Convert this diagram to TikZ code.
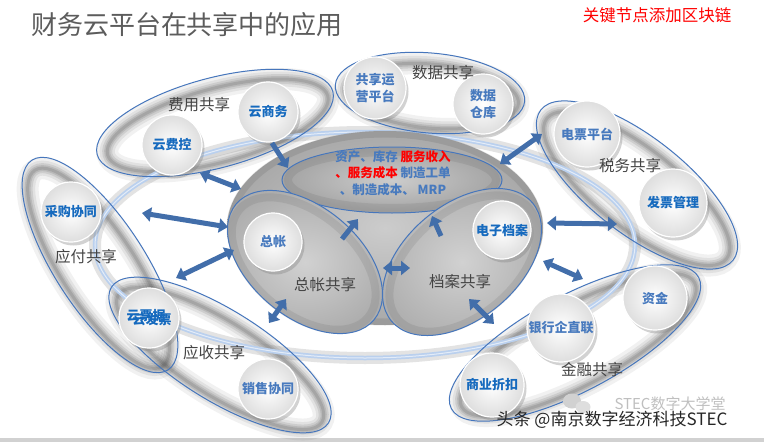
\documentclass[tikz,border=0pt]{standalone}
\usepackage{fontspec}
\setmainfont{Noto Sans CJK SC}
\usetikzlibrary{arrows.meta,shadows}
\definecolor{nodeblue}{RGB}{22,106,190}
\definecolor{softblue}{RGB}{72,122,190}
\definecolor{lineblue}{RGB}{70,118,188}
\definecolor{arrowblue}{RGB}{66,110,170}
\definecolor{ringblue}{RGB}{186,208,238}
\definecolor{labelgray}{RGB}{68,68,68}
\definecolor{titlegray}{RGB}{92,92,92}
\newcommand\grpshadow[5]{%
  \foreach \w/\o in {22/0.07,15/0.09,10/0.12,6/0.14,3/0.16}{%
    \draw[black!75, line width=\w pt, opacity=\o, rotate around={#5:(#1,#2)}]
      (#1+2,#2+3) ellipse [x radius=#3-8, y radius=#4-8];}}
\newcommand\grpline[5]{%
  \draw[grpoutline, rotate around={#5:(#1,#2)}] (#1,#2) ellipse [x radius=#3, y radius=#4];}
\begin{document}
\begin{tikzpicture}[x=1pt,y=-1pt,
  bub/.style={circle, minimum size=#1, inner sep=0pt, draw=white, line width=1.2pt,
    inner color=white, outer color=black!13,
    drop shadow={shadow xshift=2.5pt, shadow yshift=-3.5pt, opacity=0.35},
    text=nodeblue, font=\bfseries\fontsize{13}{17}\selectfont, align=center},
  grplabel/.style={text=labelgray, font=\fontsize{15.5}{18}\selectfont},
  grpoutline/.style={lineblue, line width=1pt},
  arr/.style={arrowblue, line width=5pt, -{Triangle[width=14pt,length=9pt]}},
  darr/.style={arrowblue, line width=5pt, {Triangle[width=14pt,length=9pt]}-{Triangle[width=14pt,length=9pt]}}
]
\useasboundingbox (0,0) rectangle (764,442);
\fill[white] (0,0) rectangle (764,442);
\fill[black!18] (0,438) rectangle (764,442);

% group shadows
\grpshadow{215}{123}{122}{45}{15}
\grpshadow{430}{93}{95}{40}{-5}
\grpshadow{637}{185}{122}{48}{-38}
\grpshadow{100}{265}{125}{45}{-57}
\grpshadow{220}{355}{128}{45}{-32}
\grpshadow{575}{343}{140}{48}{28}

% ring
\draw[black!50, line width=12pt, opacity=0.22] (365,245) ellipse [x radius=270, y radius=113];
\draw[ringblue, line width=4.5pt] (365,245) ellipse [x radius=270, y radius=113];
\draw[white, line width=1pt, opacity=0.6] (365,245) ellipse [x radius=270, y radius=113];

% central gray base
\shade[inner color=black!20, outer color=black!34] (385,228) ellipse [x radius=158, y radius=97];
\draw[black!70, line width=7pt, opacity=0.15] (385,228) ellipse [x radius=155, y radius=94];

% inner ellipses
\shade[inner color=black!20, outer color=black!36] (392,180) ellipse [x radius=110, y radius=33];
\draw[black!70, line width=8pt, opacity=0.12] (392,180) ellipse [x radius=104, y radius=28];
\draw[grpoutline] (392,180) ellipse [x radius=110, y radius=33];
\begin{scope}[rotate around={-40:(305,262)}]
  \shade[inner color=black!18, outer color=black!32] (305,262) ellipse [x radius=90, y radius=55];
  \draw[black!70, line width=8pt, opacity=0.12] (305,264) ellipse [x radius=84, y radius=50];
  \draw[grpoutline] (305,262) ellipse [x radius=90, y radius=55];
\end{scope}
\begin{scope}[rotate around={40:(462,262)}]
  \shade[inner color=black!18, outer color=black!32] (462,262) ellipse [x radius=92, y radius=57];
  \draw[black!70, line width=8pt, opacity=0.12] (462,264) ellipse [x radius=86, y radius=52];
  \draw[grpoutline] (462,262) ellipse [x radius=92, y radius=57];
\end{scope}

% group outlines
\grpline{215}{123}{122}{45}{15}
\grpline{430}{93}{95}{40}{-5}
\grpline{637}{185}{122}{48}{-38}
\grpline{100}{265}{125}{45}{-57}
\grpline{220}{355}{128}{45}{-32}
\grpline{575}{343}{140}{48}{28}

% circles
\node[bub=60] (yunshangwu) at (268,112) {云商务};
\node[bub=60] (yunfeikong) at (172,145) {云费控};
\node[bub=62, text=softblue] (gxyy) at (375,88) {共享运\\营平台};
\node[bub=60, text=softblue] (sjck) at (483,104) {数据\\仓库};
\node[bub=66, text=softblue] (dppt) at (587,134) {电票平台};
\node[bub=68] (fpgl) at (673,203) {发票管理};
\node[bub=60] (cgxt) at (71,212) {采购协同};
\node[bub=60] (ypj) at (149,318) {};
\node[text=nodeblue, font=\bfseries\fontsize{13}{15}\selectfont] (ypjt) at (146,316) {云票据};
\node[text=nodeblue, font=\bfseries\fontsize{13}{15}\selectfont] (yfpt) at (152,320) {云发票};
\node[bub=60, text=softblue] (xsxt) at (268,389) {销售协同};
\node[bub=58, text=softblue] (zz) at (273,242) {总帐};
\node[bub=58] (dzda) at (502,230) {电子档案};
\node[bub=64, text=softblue] (zj) at (655,298) {资金};
\node[bub=68, text=softblue] (yhqzl) at (561,328) {银行企直联};
\node[bub=64] (syzk) at (492,385) {商业折扣};

% arrows
\coordinate (a1s) at (200,173); \coordinate (a1e) at (241,189);
\coordinate (a2s) at (272,143); \coordinate (a2e) at (288,168);
\coordinate (a3s) at (142,213); \coordinate (a3e) at (228,227);
\coordinate (a4s) at (176,278); \coordinate (a4e) at (234,250);
\coordinate (a5s) at (269,323); \coordinate (a5e) at (286,299);
\coordinate (a6s) at (542,134); \coordinate (a6e) at (500,164);
\coordinate (a7s) at (547,223); \coordinate (a7e) at (617,224);
\coordinate (a8s) at (543,261); \coordinate (a8e) at (583,279);
\coordinate (a9s) at (469,299); \coordinate (a9e) at (494,324);
\coordinate (a10s) at (342,239); \coordinate (a10e) at (358,219);
\coordinate (a11s) at (441,236); \coordinate (a11e) at (432,216);
\coordinate (a12s) at (383,268); \coordinate (a12e) at (410,268);
\draw[darr] (a1s) -- (a1e);
\draw[arr] (a2s) -- (a2e);
\draw[darr] (a3s) -- (a3e);
\draw[darr] (a4s) -- (a4e);
\draw[darr] (a5s) -- (a5e);
\draw[darr] (a6s) -- (a6e);
\draw[darr] (a7s) -- (a7e);
\draw[darr] (a8s) -- (a8e);
\draw[darr] (a9s) -- (a9e);
\draw[arr] (a10s) -- (a10e);
\draw[arr] (a11s) -- (a11e);
\draw[darr] (a12s) -- (a12e);

% center text
\node[text=softblue, font=\bfseries\fontsize{12.5}{16.5}\selectfont, align=center] (ctext) at (393,173)
  {资产、库存 \textcolor{red}{服务收入}\\\textcolor{red}{、服务成本} 制造工单\\、制造成本、 MRP};

% group labels
\node[grplabel] (l1) at (199,105) {费用共享};
\node[grplabel] (l2) at (443,73) {数据共享};
\node[grplabel] (l3) at (630,166) {税务共享};
\node[grplabel] (l4) at (86,257) {应付共享};
\node[grplabel] (l5) at (214,353) {应收共享};
\node[grplabel] (l6) at (325,285) {总帐共享};
\node[grplabel] (l7) at (460,282) {档案共享};
\node[grplabel] (l8) at (592,370) {金融共享};

% titles
\node[text=titlegray, font=\fontsize{26}{30}\selectfont] (title) at (187,25) {财务云平台在共享中的应用};
\node[text=red, font=\fontsize{16.5}{19}\selectfont] (keynote) at (657,15) {关键节点添加区块链};

% watermark
\fill[black!18] (572,401) ellipse [x radius=9, y radius=7.5];
\fill[black!13] (583,407) ellipse [x radius=7.5, y radius=6];
\node[text=black!25, font=\fontsize{15}{17}\selectfont] (wm2) at (670,404) {STEC数字大学堂};
\node[text=black!85, font=\fontsize{17}{20}\selectfont] (wm) at (612,420) {头条 @南京数字经济科技STEC};
\end{tikzpicture}
\end{document}
